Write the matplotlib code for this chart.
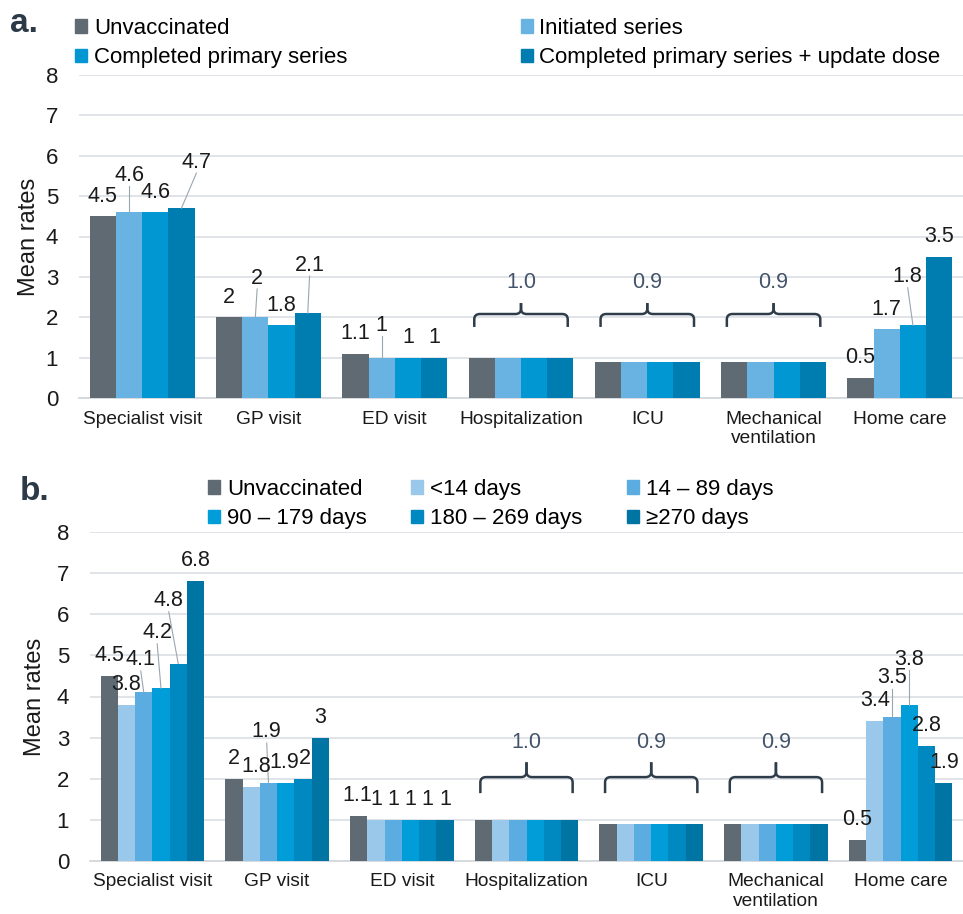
import matplotlib.pyplot as plt
import numpy as np
from matplotlib.patches import Patch
from matplotlib.path import Path
from matplotlib.patches import PathPatch

plt.rcParams['font.family'] = ['Liberation Sans', 'DejaVu Sans']

categories = ["Specialist visit", "GP visit", "ED visit", "Hospitalization",
              "ICU", "Mechanical\nventilation", "Home care"]

# panel a
series_a = ["Unvaccinated", "Initiated series", "Completed primary series",
            "Completed primary series + update dose"]
unvacc = [4.5, 2.0, 1.1, 1.0, 0.9, 0.9, 0.5]
initiated = [4.6, 2.0, 1.0, 1.0, 0.9, 0.9, 1.7]
completed = [4.6, 1.8, 1.0, 1.0, 0.9, 0.9, 1.8]
completed_update = [4.7, 2.1, 1.0, 1.0, 0.9, 0.9, 3.5]

# panel b
series_b = ["Unvaccinated", "<14 days", "14 – 89 days", "90 – 179 days",
            "180 – 269 days", "≥270 days"]
b_unvacc = [4.5, 2.0, 1.1, 1.0, 0.9, 0.9, 0.5]
b_lt14 = [3.8, 1.8, 1.0, 1.0, 0.9, 0.9, 3.4]
b_14_89 = [4.1, 1.9, 1.0, 1.0, 0.9, 0.9, 3.5]
b_90_179 = [4.2, 1.9, 1.0, 1.0, 0.9, 0.9, 3.8]
b_180_269 = [4.8, 2.0, 1.0, 1.0, 0.9, 0.9, 2.8]
b_270 = [6.8, 3.0, 1.0, 1.0, 0.9, 0.9, 1.9]

# groups shown with a brace and one pooled value
brace_groups = [3, 4, 5]
brace_text = ["1.0", "0.9", "0.9"]

colors_a = ["#5f6a72", "#68b3e2", "#0097d3", "#007db0"]
colors_b = ["#5f6a72", "#9ac8eb", "#5badE1", "#009dd8", "#0088c0", "#0075a3"]

# labels lifted off the bar with a leader line: (group, bar) -> (dx in bars, dy)
raised_a = {(0, 1): (0, 0.92), (0, 3): (0.57, 1.14), (1, 1): (0.07, 0.97),
            (1, 3): (0.07, 1.19), (2, 1): (0, 0.8), (6, 2): (-0.2, 1.2)}
raised_b = {(0, 2): (-0.17, 0.79), (0, 3): (-0.22, 1.35), (0, 4): (-0.55, 1.53),
            (1, 2): (-0.1, 1.24), (6, 2): (0, 0.95), (6, 3): (0, 1.11)}
shift_b = {(1, 1): 0.27, (1, 3): -0.08, (1, 4): 0.12, (2, 0): -0.1}

TXT = "#1a1a1a"
GRID = "#dde2e6"


def draw_brace(ax, xc, half, yb, yt, ytip, color):
    rx = 0.045
    ry = 0.13
    for s in (-1, 1):
        x0 = xc + s * half
        verts = [(x0, yb), (x0, yt - ry), (x0, yt), (x0 - s * rx, yt),
                 (xc + s * rx, yt), (xc, yt), (xc, yt + ry), (xc, ytip)]
        codes = [Path.MOVETO, Path.LINETO, Path.CURVE3, Path.CURVE3,
                 Path.LINETO, Path.CURVE3, Path.CURVE3, Path.LINETO]
        ax.add_patch(PathPatch(Path(verts, codes), fill=False, edgecolor=color,
                               lw=1.8, capstyle='butt', joinstyle='round', zorder=4))


def draw_panel(ax, data, colors, names, raised, shift, brace_y, ylabelpad):
    n = len(data)
    x = np.arange(len(categories))
    w = 0.83 / n
    handles = []
    for i, vals in enumerate(data):
        xs = x + (i - (n - 1) / 2) * w
        ax.bar(xs, vals, width=w, color=colors[i], zorder=3)
        handles.append(Patch(color=colors[i], label=names[i]))
        for g, v in enumerate(vals):
            if g in brace_groups:
                continue
            key = (g, i)
            if key in raised:
                dx, dy = raised[key]
                tx = xs[g] + dx * w
                ty = v + dy
                ax.plot([tx, xs[g]], [ty - 0.27, v], color="#9aa6ae", lw=0.8, zorder=4)
            else:
                tx = xs[g] + shift.get(key, 0) * w
                ty = v + 0.5
            ax.text(tx, ty, f"{v:g}", ha='center', va='center', fontsize=15.5,
                    color=TXT, zorder=5)
    yb, yt, ytip, ytxt = brace_y
    for g, t in zip(brace_groups, brace_text):
        draw_brace(ax, g, 0.37, yb, yt, ytip, "#2f3d4a")
        ax.text(g, ytxt, t, ha='center', va='center', fontsize=15.5,
                color="#44546a")

    ax.set_xlim(-0.5, len(categories) - 0.5)
    ax.set_ylim(0, 8)
    ax.set_yticks(range(0, 9))
    ax.set_xticks(x)
    ax.set_xticklabels(categories)
    ax.yaxis.grid(True, color=GRID, lw=1.3, zorder=0)
    ax.set_axisbelow(True)
    for s in ["top", "right", "left"]:
        ax.spines[s].set_visible(False)
    ax.spines["bottom"].set_color("#d3d8dc")
    ax.spines["bottom"].set_linewidth(1.3)
    ax.tick_params(axis='y', length=0, pad=15, labelsize=16, labelcolor=TXT)
    ax.tick_params(axis='x', length=0, pad=9, labelsize=13.8, labelcolor=TXT)
    ax.set_ylabel("Mean rates", fontsize=17, color=TXT, labelpad=ylabelpad)
    return handles


fig = plt.figure(figsize=(9.63, 9.14), dpi=100)
ax1 = fig.add_axes([79 / 963, 516 / 914, (963 - 79) / 963, 323 / 914])
ax2 = fig.add_axes([90 / 963, 53 / 914, (963 - 90) / 963, 329 / 914])

h1 = draw_panel(ax1, [unvacc, initiated, completed, completed_update], colors_a,
                series_a, raised_a, {}, (1.76, 2.08, 2.35, 2.87), 4)
h2 = draw_panel(ax2, [b_unvacc, b_lt14, b_14_89, b_90_179, b_180_269, b_270],
                colors_b, series_b, raised_b, shift_b, (1.65, 2.04, 2.4, 2.87), 8)

fig.legend(handles=[h1[0], h1[2], h1[1], h1[3]], ncol=2, loc='upper left',
           bbox_to_anchor=(75 / 963, 1 - 18 / 914), frameon=False, fontsize=16,
           handlelength=0.55, handleheight=0.55, handletextpad=0.3,
           columnspacing=7.8, labelspacing=0.38, borderpad=0, borderaxespad=0)
fig.legend(handles=[h2[0], h2[3], h2[1], h2[4], h2[2], h2[5]], ncol=3, loc='upper left',
           bbox_to_anchor=(208 / 963, 1 - 479 / 914), frameon=False, fontsize=16,
           handlelength=0.55, handleheight=0.55, handletextpad=0.3,
           columnspacing=2.0, labelspacing=0.38, borderpad=0, borderaxespad=0)

fig.text(10 / 963, 1 - 24 / 914, "a.", fontsize=24, fontweight='bold',
         color="#2c3a47", va='center', ha='left')
fig.text(20 / 963, 1 - 492 / 914, "b.", fontsize=24, fontweight='bold',
         color="#2c3a47", va='center', ha='left')

fig.savefig("out.png", dpi=100)
